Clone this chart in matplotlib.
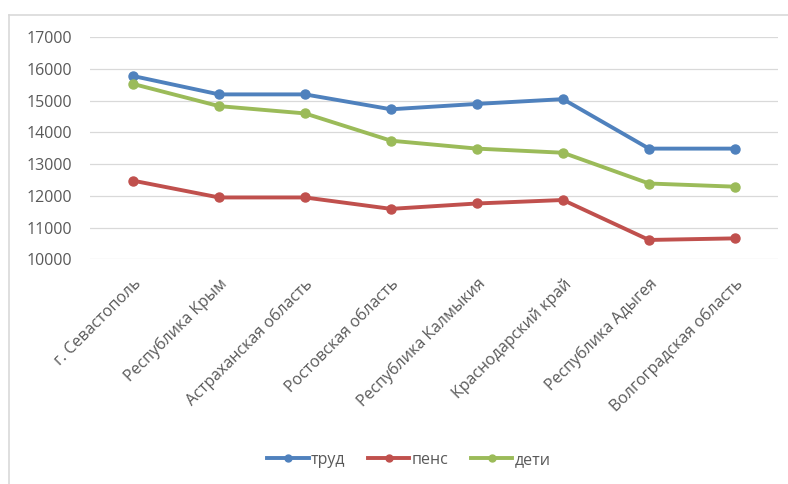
import matplotlib
matplotlib.use("Agg")
import matplotlib.pyplot as plt
from matplotlib.lines import Line2D

plt.rcParams['font.family'] = ['Open Sans', 'Noto Sans', 'DejaVu Sans']

# data
regions = [
    "г. Севастополь",
    "Республика Крым",
    "Астраханская область",
    "Ростовская область",
    "Республика Калмыкия",
    "Краснодарский край",
    "Республика Адыгея",
    "Волгоградская область",
]
trud = [15780, 15200, 15200, 14730, 14900, 15050, 13490, 13490]
pens = [12480, 11950, 11950, 11590, 11760, 11870, 10610, 10660]
deti = [15530, 14830, 14600, 13740, 13490, 13360, 12390, 12290]
yticks = [10000, 11000, 12000, 13000, 14000, 15000, 16000, 17000]

series = [
    ("труд", trud, "#4F81BD"),
    ("пенс", pens, "#C0504D"),
    ("дети", deti, "#9BBB59"),
]
text_color = "#595959"
W, H = 788, 484

fig = plt.figure(figsize=(W / 100, H / 100), dpi=100)
ax = fig.add_axes([90 / W, 1 - 259.3 / H, 688 / W, (259.3 - 37.3) / H])

x = list(range(len(regions)))
for name, vals, color in series:
    ax.plot(x, vals, color=color, lw=2.8, marker="o", ms=6.5,
            solid_capstyle="round", label=name, zorder=3)

ax.set_xlim(-0.5, len(regions) - 0.5)
ax.set_ylim(yticks[0], yticks[-1])
ax.set_yticks(yticks)
ax.set_yticklabels([str(v) for v in yticks])
ax.grid(axis="y", color="#D9D9D9", lw=0.9)
ax.set_axisbelow(True)
for s in ax.spines.values():
    s.set_visible(False)
ax.tick_params(axis="y", length=0, pad=13, labelsize=11.5, labelcolor=text_color)
ax.tick_params(axis="x", length=0, pad=12)
ax.set_xticks(x)
ax.set_xticklabels(regions, rotation=45, ha="right", va="top",
                   rotation_mode="anchor", fontsize=11.5, color=text_color)

# legend at the bottom
handles = [Line2D([], [], color=c, lw=2.8, marker="o", ms=5) for _, _, c in series]
fig.legend(handles, [n for n, _, _ in series], loc="center",
           bbox_to_anchor=(409 / W, 1 - 460 / H), ncol=3, frameon=False,
           handlelength=2.6, handletextpad=0.15, columnspacing=1.4,
           labelcolor=text_color, prop={"size": 11.5})

# chart area border (cropped: only top and left edges show)
fig.add_artist(Line2D([8.7 / W, 8.7 / W], [0, 1 - 15 / H], color="#D9D9D9", lw=1.2,
                      transform=fig.transFigure))
fig.add_artist(Line2D([8.7 / W, 1], [1 - 15 / H, 1 - 15 / H], color="#D9D9D9", lw=1.2,
                      transform=fig.transFigure))

fig.savefig("out.png", dpi=100, facecolor="white")
